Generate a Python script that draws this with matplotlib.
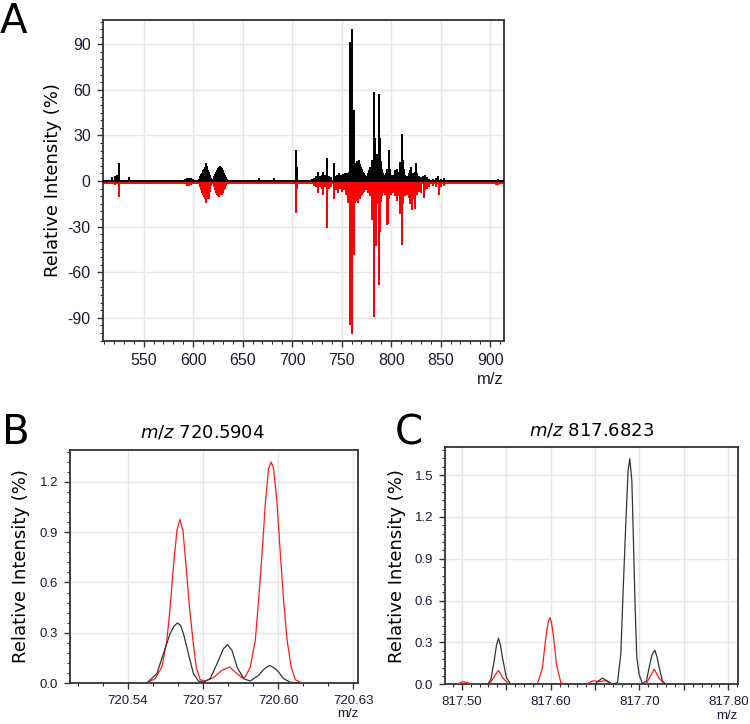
import matplotlib
matplotlib.use('Agg')
import matplotlib.pyplot as plt
import matplotlib.transforms as mtransforms
from matplotlib.ticker import MultipleLocator, FormatStrFormatter, FuncFormatter

plt.rcParams['axes.unicode_minus'] = False

# ---- panel A: stick spectra, black up / red down (relative intensity %)
a_mz_black = [512, 518, 521, 523, 525, 535,
              592, 594, 596, 598, 600,
              606, 607, 608, 609, 610, 611, 612, 613, 614, 615, 616, 617, 618,
              620, 621, 622, 623, 624, 625, 626, 627, 628, 629, 630, 631, 632, 633, 634,
              667, 682, 703.5, 705,
              720, 722, 724, 726, 728, 730, 731, 733, 735.5, 737, 739, 742.5, 744, 745,
              747, 749, 751, 753, 755, 757, 758.7, 760.7, 762, 763, 764, 765, 766, 767,
              768, 769, 770, 771, 772, 773, 774, 776, 777, 778, 779, 780.6, 782.2, 783,
              784, 785, 786, 787.3, 788, 789, 790, 791, 792, 793, 795, 796, 797.4, 798.3,
              799, 800, 802, 804, 806, 808, 809.2, 810.9, 812, 813, 814, 816, 818, 819.3,
              820.5, 822, 824, 825, 826.5, 828, 830, 832, 834.4, 836, 838, 842, 845,
              847.8, 850, 852.9, 873, 906, 908.4, 910]
a_int_black = [1.0, 2.4, 3.3, 4.0, 11.6, 2.4,
               1.5, 2.0, 2.2, 1.8, 1.2,
               1.5, 3, 4.5, 5.5, 7, 8, 9.5, 11.6, 10, 7.5, 6, 4, 2,
               1.5, 3, 4.5, 6, 7.5, 8.5, 9, 9.9, 9.5, 8.5, 7, 5.5, 4, 2.5, 1.5,
               2.0, 2.0, 20.4, 9.4,
               1.5, 2.0, 3, 6.1, 3, 4, 6.0, 4, 14.9, 3, 2.5, 11.6, 3.5, 4,
               5, 4, 4.5, 5, 5.5, 6, 91.7, 100, 46.7, 9, 10.5, 11.6, 12.9, 9,
               14, 11, 9, 8, 6, 5, 4, 3, 5, 7, 9, 14, 58.8, 20,
               28, 15, 18, 57, 20, 28, 12.9, 8, 5, 4, 5, 8, 20.4, 20.4,
               8, 4, 4, 7, 8, 6, 12.7, 30.7, 13.8, 8, 4, 3, 5, 7,
               9.4, 5, 6, 11.6, 5, 3, 2.5, 3, 4, 2.5, 1.5, 1.5, 2,
               3.3, 1.5, 2.2, 0.8, 1, 1.5, 1]

a_mz_red = [512, 518, 521, 525,
            592, 594, 596, 598, 600,
            606, 607, 608, 609, 610, 611, 612, 613, 614, 615, 616, 617, 618,
            620, 621, 622, 623, 624, 625, 626, 627, 628, 629, 630, 631, 632, 633, 634,
            667, 682, 700, 704.2, 705,
            720, 722, 724, 725.7, 728, 730, 731, 733, 735.2, 737, 739, 742.5, 744, 746,
            748, 750, 752, 754, 756, 758.7, 760.7, 762, 763, 764, 765, 766, 767, 768,
            769, 770, 771, 772, 773, 775, 777, 779, 780.6, 783, 785, 786, 787.3, 789,
            790, 791, 793, 794, 795.7, 797, 798, 800, 802, 804, 805.8, 807, 808.5,
            810.9, 812, 814, 816, 818, 819.3, 821, 822.5, 824.3, 826, 828, 830, 832.8,
            834, 836, 838, 842, 845, 848.5, 850, 853, 873, 906, 908.4, 910]
a_int_red = [-1, -2.2, -2.6, -10.3,
             -2, -3, -3, -2.5, -1.5,
             -2, -4, -6, -8, -9, -10.3, -12, -14.7, -11, -12, -11.6, -7, -3,
             -2, -4, -6, -8, -9, -10, -10.3, -9.5, -9, -9.5, -8, -6, -5, -3, -2,
             -1.0, -1.0, -1.5, -20.9, -5,
             -2, -3, -4, -8, -4, -5, -9, -4, -30.7, -5, -4, -12, -6, -8,
             -5, -7, -6, -9, -14.5, -94.8, -100.7, -48.7, -13.6, -14.7, -12, -13, -14.7, -11,
             -12, -10, -9, -8, -7, -6, -8, -10, -25.7, -89.3, -43, -15, -68.5, -33.5,
             -14, -10, -8, -9, -29, -28, -12, -9, -8, -10, -13, -10, -22,
             -42, -15, -10, -9, -11, -15, -19, -12, -18.6, -9, -7, -8, -11,
             -6, -5, -4, -3, -4, -9, -4, -3, -1.5, -2.5, -2.6, -2]

# ---- panel B: m/z 720.5904 profiles
b_mz_black = [720.5476, 720.5516, 720.5542, 720.5569, 720.5584, 720.5598, 720.5610,
              720.5622, 720.5642, 720.5662, 720.5682, 720.5702, 720.5729, 720.5756,
              720.5782, 720.5798, 720.5816, 720.5836, 720.5862, 720.5889, 720.5922,
              720.5945, 720.5966, 720.5985, 720.6000, 720.6022, 720.6049, 720.6089]
b_int_black = [0.0, 0.056, 0.175, 0.295, 0.339, 0.358, 0.345,
               0.295, 0.175, 0.056, 0.012, 0.006, 0.026, 0.115,
               0.205, 0.229, 0.195, 0.096, 0.026, 0.012, 0.046,
               0.085, 0.105, 0.09, 0.07, 0.026, 0.004, 0.0]

b_mz_red = [720.5476, 720.5509, 720.5536, 720.5556, 720.5569, 720.5582, 720.5596,
            720.5608, 720.5620, 720.5633, 720.5646, 720.5660, 720.5673, 720.5689,
            720.5709, 720.5742, 720.5776, 720.5806, 720.5836, 720.5856, 720.5869,
            720.5889, 720.5909, 720.5922, 720.5936, 720.5949, 720.5962, 720.5972,
            720.5982, 720.5996, 720.6009, 720.6022, 720.6036, 720.6052, 720.6069,
            720.6096]
b_int_red = [0.0, 0.026, 0.096, 0.255, 0.453, 0.692, 0.910,
             0.976, 0.910, 0.692, 0.453, 0.255, 0.096, 0.020,
             0.012, 0.032, 0.076, 0.096, 0.056, 0.032, 0.036,
             0.096, 0.255, 0.493, 0.771, 1.07, 1.28, 1.318,
             1.28, 1.07, 0.771, 0.493, 0.255, 0.096, 0.020,
             0.0]

# ---- panel C: m/z 817.6823 profiles
c_mz_black = [817.525, 817.529, 817.5327, 817.5364, 817.5390, 817.5412, 817.5435,
              817.5457, 817.5502, 817.5551, 817.600, 817.650, 817.6527, 817.6584,
              817.664, 817.6696, 817.6752, 817.679, 817.6816, 817.6846, 817.6872,
              817.6891, 817.6914, 817.6932, 817.6951, 817.697, 817.6996, 817.7033,
              817.7078, 817.7109, 817.7140, 817.7173, 817.7200, 817.7222, 817.7259,
              817.7297, 817.735]
c_int_black = [0, 0, 0.036, 0.168, 0.28, 0.331, 0.28,
               0.192, 0.048, 0, 0, 0, 0.019, 0.045,
               0.022, 0, 0.012, 0.216, 0.671, 1.151, 1.534,
               1.618, 1.463, 1.031, 0.552, 0.192, 0.072, 0.005,
               0.024, 0.12, 0.21, 0.245, 0.19, 0.12, 0.024,
               0, 0]

c_mz_red = [817.49, 817.495, 817.5007, 817.5063, 817.512, 817.5307, 817.5364,
            817.5412, 817.5465, 817.5525, 817.566, 817.585, 817.5908, 817.5925,
            817.5946, 817.5970, 817.5991, 817.6010, 817.6028, 817.6048, 817.6065,
            817.6115, 817.6152, 817.6396, 817.6478, 817.6546, 817.6621, 817.6696,
            817.7072, 817.7109, 817.7166, 817.7222, 817.7278, 817.7316]
c_int_red = [0, 0, 0.019, 0.012, 0, 0, 0.055,
             0.10, 0.043, 0.005, 0, 0, 0.12, 0.22,
             0.336, 0.44, 0.479, 0.44, 0.36, 0.25, 0.144,
             0.012, 0, 0, 0.026, 0.019, 0.026, 0,
             0, 0.043, 0.108, 0.043, 0.005, 0]

tick_col = '#1a1a33'
grid_col = '#e6e6e6'
tick_font = 'Liberation Sans'
label_font = 'DejaVu Sans'


def style_axes(ax, tsize):
    ax.set_facecolor('white')
    for s in ax.spines.values():
        s.set_color('#333333')
        s.set_linewidth(1.3)
    ax.grid(True, which='major', color=grid_col, lw=1.0, zorder=0)
    ax.set_axisbelow(True)
    ax.tick_params(which='both', direction='out', color='#333333',
                   labelcolor=tick_col, labelsize=tsize, top=False, right=False)
    ax.tick_params(which='major', length=4.5, width=1.0, pad=4)
    ax.tick_params(which='minor', length=2.5, width=0.8)
    for lab in ax.get_xticklabels() + ax.get_yticklabels():
        lab.set_fontfamily(tick_font)


fig = plt.figure(figsize=(7.5, 7.24), dpi=100)

# ---------------- A
axA = fig.add_axes([0.1367, 0.529, 0.5353, 0.4434])
axA.set_xlim(508.5, 914)
axA.set_ylim(-105.3, 106)
axA.xaxis.set_major_locator(MultipleLocator(50))
axA.xaxis.set_minor_locator(MultipleLocator(10))
axA.yaxis.set_major_locator(MultipleLocator(30))
axA.yaxis.set_minor_locator(MultipleLocator(5))
style_axes(axA, 11.5)
axA.vlines(a_mz_red, 0, a_int_red, color='#ff0000', lw=1.3, zorder=2, antialiased=False)
axA.vlines(a_mz_black, 0, a_int_black, color='black', lw=1.3, zorder=3, antialiased=False)
down = mtransforms.offset_copy(axA.transData, fig=fig, y=-1.2, units='points')
up = mtransforms.offset_copy(axA.transData, fig=fig, y=0.3, units='points')
axA.plot(axA.get_xlim(), [0, 0], color='#ff0000', lw=1.4, transform=down, zorder=2.5)
axA.plot(axA.get_xlim(), [0, 0], color='black', lw=1.4, transform=up, zorder=4)
axA.set_ylabel('Relative Intensity (%)', fontsize=13, family=label_font, labelpad=4)
axA.set_xlabel('m/z', loc='right', fontsize=12, family=tick_font, color=tick_col, labelpad=3)

# ---------------- B
axB = fig.add_axes([0.0933, 0.0566, 0.384, 0.3218])
axB.set_xlim(720.5169, 720.6319)
axB.set_ylim(0, 1.39)
axB.xaxis.set_major_locator(MultipleLocator(0.03))
axB.xaxis.set_minor_locator(MultipleLocator(0.01))
axB.xaxis.set_major_formatter(FormatStrFormatter('%.2f'))
axB.yaxis.set_major_locator(MultipleLocator(0.3))
axB.yaxis.set_minor_locator(MultipleLocator(0.06))
axB.yaxis.set_major_formatter(FormatStrFormatter('%.1f'))
style_axes(axB, 9.5)
axB.plot(b_mz_red, b_int_red, color='#ff1a1a', lw=0.9, zorder=3)
axB.plot(b_mz_black, b_int_black, color='#333333', lw=0.9, zorder=3)
axB.set_ylabel('Relative Intensity (%)', fontsize=13, family=label_font, labelpad=7)
axB.set_xlabel('m/z', loc='right', fontsize=9.5, family=tick_font, color=tick_col, labelpad=1)
axB.set_title(r'$\it{m/z}$ 720.5904', fontsize=13, family=label_font, pad=9, x=0.46)

# ---------------- C
axC = fig.add_axes([0.5933, 0.0548, 0.3903, 0.328])
axC.set_xlim(817.481, 817.8106)
axC.set_ylim(0, 1.703)
axC.xaxis.set_major_locator(MultipleLocator(0.05))
axC.xaxis.set_minor_locator(MultipleLocator(0.01))
axC.xaxis.set_major_formatter(FuncFormatter(
    lambda v, p: '%.2f' % v if abs(round(v * 10) - v * 10) < 1e-6 else ''))
axC.yaxis.set_major_locator(MultipleLocator(0.3))
axC.yaxis.set_minor_locator(MultipleLocator(0.06))
axC.yaxis.set_major_formatter(FormatStrFormatter('%.1f'))
style_axes(axC, 9.5)
axC.plot(c_mz_red, c_int_red, color='#ff1a1a', lw=0.9, zorder=3)
axC.plot(c_mz_black, c_int_black, color='#333333', lw=0.9, zorder=3)
axC.set_ylabel('Relative Intensity (%)', fontsize=13, family=label_font, labelpad=6)
axC.set_xlabel('m/z', loc='right', fontsize=9.5, family=tick_font, color=tick_col, labelpad=1)
axC.set_title(r'$\it{m/z}$ 817.6823', fontsize=13, family=label_font, pad=8)

# panel letters
fig.text(0.0, 0.9544, 'A', fontsize=29, family=label_font, va='baseline')
fig.text(0.003, 0.3867, 'B', fontsize=29, family=label_font, va='baseline')
fig.text(0.5267, 0.3854, 'C', fontsize=29, family=label_font, va='baseline')

fig.savefig('out.png', dpi=100)
